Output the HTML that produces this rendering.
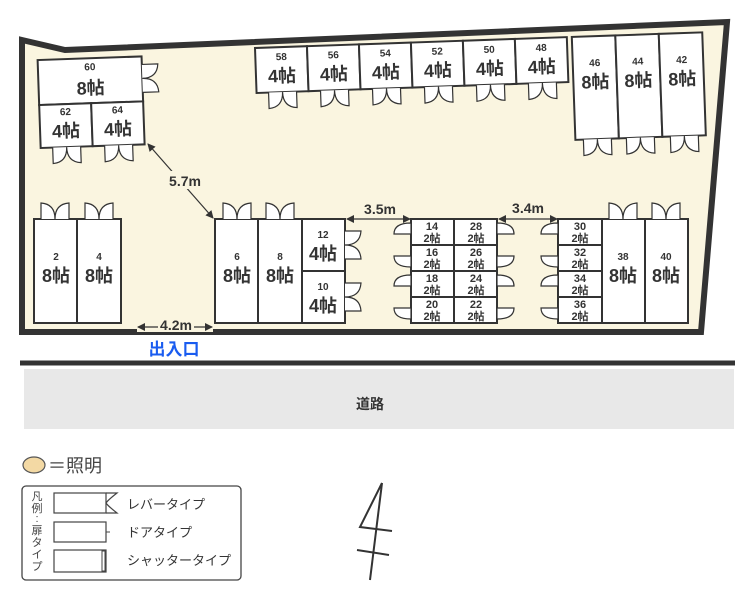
<!DOCTYPE html>
<html><head><meta charset="utf-8"><style>
body{margin:0;background:#fff;}
svg{display:block;font-family:"Liberation Sans","Noto Sans CJK JP",sans-serif;}
.b{fill:#fff;stroke:#333;stroke-width:2}
.d{fill:#fff;stroke:#333;stroke-width:1.2}
.n{font-size:10px;fill:#333;text-anchor:middle;font-weight:bold}
.m{font-size:18px;fill:#333;text-anchor:middle;font-weight:bold}
.s{font-size:11px;fill:#333;text-anchor:middle;font-weight:bold}
.dim{font-size:14px;fill:#333;font-weight:bold;text-anchor:middle}
</style></head><body>
<svg width="750" height="601" viewBox="0 0 750 601">
<defs>
<marker id="ar" markerWidth="8" markerHeight="8" refX="7" refY="4" orient="auto-start-reverse" markerUnits="userSpaceOnUse"><path d="M0,0 L8,4 L0,8 Z" fill="#333"/></marker>
<path id="dt" d="M-14,0 L-14,-16 Q0,-15 0,0 Q0,-15 14,-16 L14,0"/>
<path id="db" d="M-14,0 L-14,16 Q0,15 0,0 Q0,15 14,16 L14,0"/>
<path id="dr" d="M0,-14 L16,-14 Q15,0 0,0 Q15,0 16,14 L0,14"/>
<path id="qlu" d="M0,0 L0,-11 Q-17,-11 -17,0 Z"/>
<path id="qld" d="M0,0 L0,11 Q-17,11 -17,0 Z"/>
<path id="qru" d="M0,0 L0,-11 Q17,-11 17,0 Z"/>
<path id="qrd" d="M0,0 L0,11 Q17,11 17,0 Z"/>
</defs>
<polygon points="22,40 65,50 727,22 701,332 22,332" fill="#faf5e0" stroke="#333" stroke-width="6" stroke-linejoin="miter"/>

<g transform="rotate(-2 40 100)">
<rect class="b" x="39" y="60" width="104" height="45"/>
<rect class="b" x="39" y="105" width="52" height="43"/>
<rect class="b" x="91" y="105" width="52" height="43"/>
<text class="n" x="91" y="72">60</text><text class="m" x="91" y="96">8帖</text>
<text class="n" x="65" y="116">62</text><text class="m" x="65" y="138">4帖</text>
<text class="n" x="117" y="116">64</text><text class="m" x="117" y="138">4帖</text>
<use href="#dr" class="d" x="143" y="82"/>
<use href="#db" class="d" x="65" y="148"/>
<use href="#db" class="d" x="117" y="148"/>
</g>

<g transform="translate(255,48) rotate(-2)">
<rect class="b" x="0" y="0" width="52" height="45"/><rect class="b" x="52" y="0" width="52" height="45"/>
<rect class="b" x="104" y="0" width="52" height="45"/><rect class="b" x="156" y="0" width="52" height="45"/>
<rect class="b" x="208" y="0" width="52" height="45"/><rect class="b" x="260" y="0" width="52" height="45"/>
<rect class="b" x="317" y="0" width="43.5" height="103"/><rect class="b" x="360.5" y="0" width="43.5" height="103"/><rect class="b" x="404" y="0" width="43.5" height="103"/>
<text class="n" x="26" y="13">58</text><text class="m" x="26" y="35">4帖</text>
<text class="n" x="78" y="13">56</text><text class="m" x="78" y="35">4帖</text>
<text class="n" x="130" y="13">54</text><text class="m" x="130" y="35">4帖</text>
<text class="n" x="182" y="13">52</text><text class="m" x="182" y="35">4帖</text>
<text class="n" x="234" y="13">50</text><text class="m" x="234" y="35">4帖</text>
<text class="n" x="286" y="13">48</text><text class="m" x="286" y="35">4帖</text>
<text class="n" x="339" y="30">46</text><text class="m" x="339" y="52">8帖</text>
<text class="n" x="382" y="30">44</text><text class="m" x="382" y="52">8帖</text>
<text class="n" x="426" y="30">42</text><text class="m" x="426" y="52">8帖</text>
<use href="#db" class="d" x="26" y="45"/><use href="#db" class="d" x="78" y="45"/><use href="#db" class="d" x="130" y="45"/>
<use href="#db" class="d" x="182" y="45"/><use href="#db" class="d" x="234" y="45"/><use href="#db" class="d" x="286" y="45"/>
<use href="#db" class="d" x="339" y="103"/><use href="#db" class="d" x="382" y="103"/><use href="#db" class="d" x="426" y="103"/>
</g>

<rect class="b" x="34" y="219" width="43" height="104"/><rect class="b" x="77" y="219" width="44" height="104"/>
<text class="n" x="56" y="260">2</text><text class="m" x="56" y="282">8帖</text>
<text class="n" x="99" y="260">4</text><text class="m" x="99" y="282">8帖</text>
<use href="#dt" class="d" x="55" y="219"/><use href="#dt" class="d" x="99" y="219"/>

<rect class="b" x="215" y="219" width="43" height="104"/><rect class="b" x="258" y="219" width="44" height="104"/>
<rect class="b" x="302" y="219" width="43" height="52"/><rect class="b" x="302" y="271" width="43" height="52"/>
<text class="n" x="237" y="260">6</text><text class="m" x="237" y="282">8帖</text>
<text class="n" x="280" y="260">8</text><text class="m" x="280" y="282">8帖</text>
<text class="n" x="323" y="238">12</text><text class="m" x="323" y="260">4帖</text>
<text class="n" x="323" y="290">10</text><text class="m" x="323" y="312">4帖</text>
<use href="#dt" class="d" x="237" y="219"/><use href="#dt" class="d" x="280" y="219"/>
<use href="#dr" class="d" x="345" y="245"/><use href="#dr" class="d" x="345" y="297"/>

<g>
<rect class="b" x="411" y="219" width="43" height="26"/><rect class="b" x="454" y="219" width="43" height="26"/>
<rect class="b" x="411" y="245" width="43" height="26"/><rect class="b" x="454" y="245" width="43" height="26"/>
<rect class="b" x="411" y="271" width="43" height="26"/><rect class="b" x="454" y="271" width="43" height="26"/>
<rect class="b" x="411" y="297" width="43" height="26"/><rect class="b" x="454" y="297" width="43" height="26"/>
<text class="s" x="432" y="230">14</text><text class="s" x="432" y="242">2帖</text>
<text class="s" x="476" y="230">28</text><text class="s" x="476" y="242">2帖</text>
<text class="s" x="432" y="256">16</text><text class="s" x="432" y="268">2帖</text>
<text class="s" x="476" y="256">26</text><text class="s" x="476" y="268">2帖</text>
<text class="s" x="432" y="282">18</text><text class="s" x="432" y="294">2帖</text>
<text class="s" x="476" y="282">24</text><text class="s" x="476" y="294">2帖</text>
<text class="s" x="432" y="308">20</text><text class="s" x="432" y="320">2帖</text>
<text class="s" x="476" y="308">22</text><text class="s" x="476" y="320">2帖</text>
<use href="#qlu" class="d" x="411" y="234"/><use href="#qld" class="d" x="411" y="256"/>
<use href="#qlu" class="d" x="411" y="286"/><use href="#qld" class="d" x="411" y="308"/>
<use href="#qru" class="d" x="497" y="234"/><use href="#qrd" class="d" x="497" y="256"/>
<use href="#qru" class="d" x="497" y="286"/><use href="#qrd" class="d" x="497" y="308"/>
</g>

<rect class="b" x="558" y="219" width="44" height="26"/><rect class="b" x="558" y="245" width="44" height="26"/>
<rect class="b" x="558" y="271" width="44" height="26"/><rect class="b" x="558" y="297" width="44" height="26"/>
<rect class="b" x="602" y="219" width="43" height="104"/><rect class="b" x="645" y="219" width="43" height="104"/>
<text class="s" x="580" y="230">30</text><text class="s" x="580" y="242">2帖</text>
<text class="s" x="580" y="256">32</text><text class="s" x="580" y="268">2帖</text>
<text class="s" x="580" y="282">34</text><text class="s" x="580" y="294">2帖</text>
<text class="s" x="580" y="308">36</text><text class="s" x="580" y="320">2帖</text>
<text class="n" x="623" y="260">38</text><text class="m" x="623" y="282">8帖</text>
<text class="n" x="666" y="260">40</text><text class="m" x="666" y="282">8帖</text>
<use href="#qlu" class="d" x="558" y="234"/><use href="#qld" class="d" x="558" y="256"/>
<use href="#qlu" class="d" x="558" y="286"/><use href="#qld" class="d" x="558" y="308"/>
<use href="#dt" class="d" x="623" y="219"/><use href="#dt" class="d" x="666" y="219"/>

<line x1="148" y1="144" x2="213" y2="218" stroke="#333" stroke-width="1.2" marker-start="url(#ar)" marker-end="url(#ar)"/>
<rect x="160" y="171" width="50" height="18" fill="#faf5e0"/>
<text class="dim" x="185" y="186">5.7m</text>
<line x1="347" y1="219" x2="410" y2="219" stroke="#333" stroke-width="1.2" marker-start="url(#ar)" marker-end="url(#ar)"/>
<text class="dim" x="380" y="214">3.5m</text>
<line x1="499" y1="219" x2="557" y2="219" stroke="#333" stroke-width="1.2" marker-start="url(#ar)" marker-end="url(#ar)"/>
<text class="dim" x="528" y="213">3.4m</text>
<rect x="137" y="318" width="76" height="14" fill="#faf5e0"/>
<line x1="138" y1="327" x2="212" y2="327" stroke="#333" stroke-width="1.2" marker-start="url(#ar)" marker-end="url(#ar)"/>
<rect x="158" y="317" width="36" height="14" fill="#faf5e0"/>
<text class="dim" x="176" y="330">4.2m</text>
<text x="174" y="355" font-size="17" font-weight="bold" fill="#1a5cf0" text-anchor="middle">出入口</text>

<line x1="20" y1="363" x2="735" y2="363" stroke="#333" stroke-width="5"/>
<rect x="24" y="369" width="710" height="60" fill="#e8e8e8"/>
<text x="370" y="409" font-size="14" font-weight="bold" fill="#333" text-anchor="middle">道路</text>

<ellipse cx="34" cy="465" rx="11" ry="8" fill="#f3d9a4" stroke="#555" stroke-width="1.2"/>
<text x="48" y="472" font-size="18" fill="#444">＝照明</text>
<rect x="22" y="486" width="219" height="94" rx="4" fill="#fff" stroke="#444" stroke-width="1.3"/>
<g font-size="11" fill="#444" text-anchor="middle">
<text x="37" y="500">凡</text><text x="37" y="512">例</text><text x="37" y="522">:</text><text x="37" y="534">扉</text><text x="37" y="546">タ</text><text x="37" y="558">イ</text><text x="37" y="570">プ</text>
</g>
<rect x="54" y="493" width="52" height="20" fill="#fff" stroke="#444" stroke-width="1.2"/>
<path d="M106,493 L117,493 Q108,500 106,503 Q108,506 117,513 L106,513" fill="none" stroke="#444" stroke-width="1.2"/>
<rect x="54" y="522" width="52" height="20" fill="#fff" stroke="#444" stroke-width="1.2"/>
<line x1="106" y1="532" x2="110" y2="532" stroke="#444" stroke-width="1"/>
<rect x="54" y="550" width="52" height="22" fill="#fff" stroke="#444" stroke-width="1.2"/>
<rect x="102" y="551" width="3" height="20" fill="#fff" stroke="#444" stroke-width="1"/>
<g font-size="13" fill="#333">
<text x="127" y="509">レバータイプ</text>
<text x="127" y="537">ドアタイプ</text>
<text x="127" y="565">シャッタータイプ</text>
</g>

<g stroke="#333" stroke-width="2" fill="none">
<path d="M382,483 L370,580"/>
<path d="M382,483 L360,527 L392,531"/>
<path d="M357,550 L389,555"/>
</g>
</svg>
</body></html>
